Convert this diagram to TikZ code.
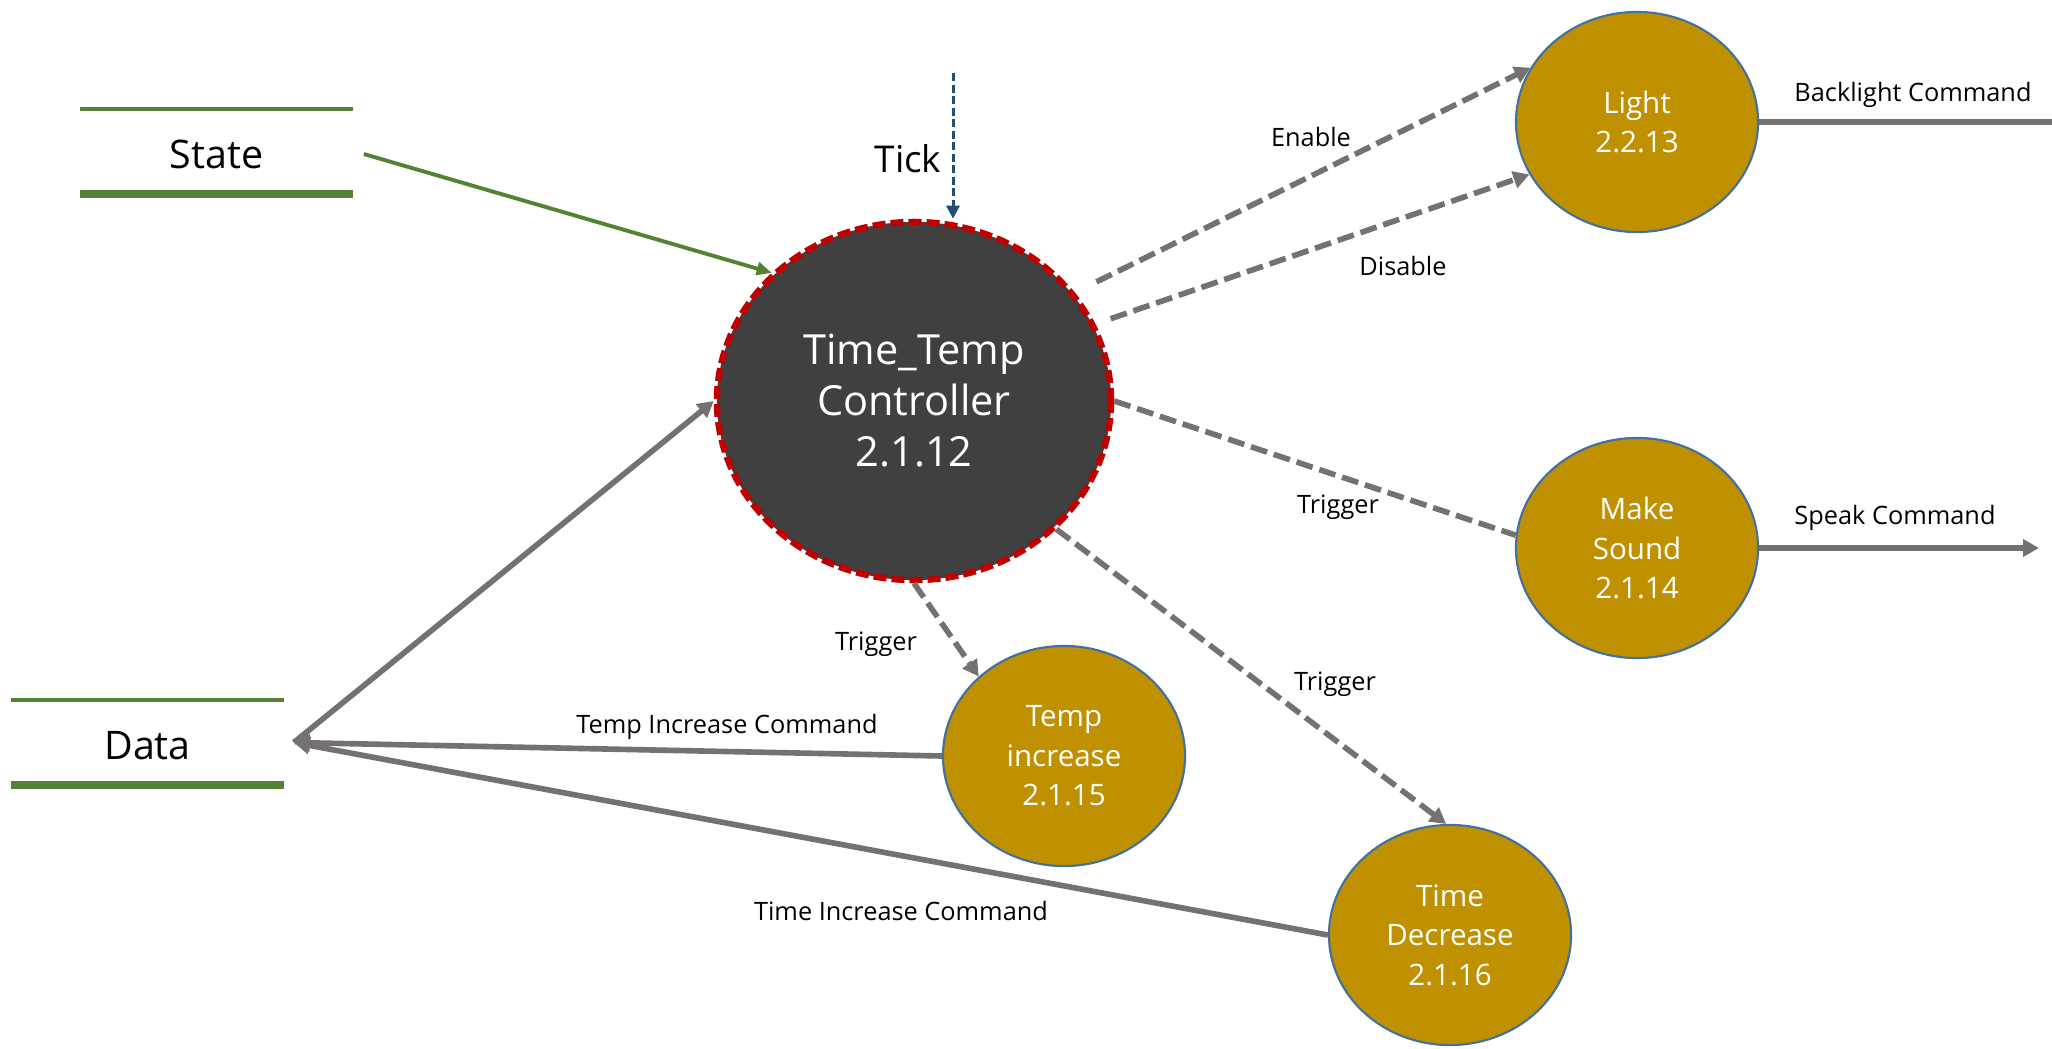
\documentclass[tikz,border=0pt]{standalone}
\usepackage{fontspec}
\setmainfont{Open Sans}
\usetikzlibrary{shapes.geometric,arrows.meta}
\definecolor{ctrlfill}{HTML}{404040}
\definecolor{ctrlred}{HTML}{C00000}
\definecolor{procgold}{HTML}{BF9000}
\definecolor{goldedge}{HTML}{41719C}
\definecolor{flowgray}{HTML}{767171}
\definecolor{storegreen}{HTML}{548235}
\definecolor{tickblue}{HTML}{1F4E79}
\begin{document}
\begin{tikzpicture}[x=0.01cm,y=-0.01cm,
  ctrlnode/.style={ellipse, fill=ctrlfill, draw=ctrlred, line width=1.8pt,
    dash pattern=on 0.13cm off 0.05cm, minimum width=3.94cm, minimum height=3.58cm,
    inner sep=0pt, align=center, text=white, font=\fontsize{11.8}{14.5}\selectfont},
  procnode/.style={ellipse, fill=procgold, draw=goldedge, line width=0.6pt,
    minimum width=2.42cm, minimum height=2.2cm, inner sep=0pt, align=center,
    text=white, font=\fontsize{8.4}{11.2}\selectfont},
  storenode/.style={minimum width=2.71cm, minimum height=0.83cm, inner sep=0pt,
    text height=0.34cm, text depth=0cm, font=\fontsize{11.2}{13}\selectfont},
  storethin/.style={draw=storegreen, line width=1.1pt},
  storethick/.style={draw=storegreen, line width=2.3pt},
  flow/.style={draw=flowgray, line width=1.6pt},
  dflow/.style={flow, dash pattern=on 0.17cm off 0.07cm},
  gtip/.style={-{Triangle[length=0.16cm,width=0.17cm]}},
  lbl/.style={font=\fontsize{7.2}{9}\selectfont, anchor=base, inner sep=0pt}]
\useasboundingbox (0,0) rectangle (2052,1048);

% processes
\node[ctrlnode] (ctrl) at (914,401) {Time\_Temp\\Controller\\2.1.12};
\node[procnode] (light) at (1637,122) {Light\\2.2.13};
\node[procnode] (sound) at (1637,548) {Make\\Sound\\2.1.14};
\node[procnode] (tinc) at (1064,756) {Temp\\increase\\2.1.15};
\node[procnode] (tdec) at (1450,935) {Time\\Decrease\\2.1.16};

% data stores
\node[storenode] (state) at (216.5,151.5) {State};
\node[storenode] (data) at (147.5,742.5) {Data};
\draw[storethin] (state.north west) -- (state.north east);
\draw[storethick] (state.south west) -- (state.south east);
\draw[storethin] (data.north west) -- (data.north east);
\draw[storethick] (data.south west) -- (data.south east);

% free ends
\coordinate (tickstart) at (953,73);
\coordinate (backlightend) at (2052,122);
\coordinate (speakend) at (2039,548);

% connectors
\draw[tickblue, line width=0.85pt, dash pattern=on 0.08cm off 0.035cm,
  -{Triangle[length=0.13cm,width=0.13cm]}] (tickstart) -- (tickstart |- ctrl.north);
\draw[storegreen, line width=1.1pt, -{Triangle[length=0.15cm,width=0.13cm]}]
  ([xshift=0.11cm,yshift=-0.025cm]state.east) -- (ctrl.138);
\draw[flow, gtip] ([xshift=0.1cm]data.east) -- (ctrl.west);
\draw[flow, gtip] (tinc.west) -- ([xshift=0.1cm]data.east);
\draw[flow, gtip] (tdec.west) -- ([xshift=0.1cm]data.east);
\draw[dflow, gtip, shorten <=0.24cm] (ctrl.34) -- (light.153);
\draw[dflow, gtip, shorten <=0.16cm] (ctrl.23) -- (light.206);
\draw[dflow] (ctrl.east) -- (sound.174);
\draw[dflow, gtip] (ctrl.318) -- (tdec.92);
\draw[dflow, gtip] (ctrl.south) -- (tinc.137);
\draw[flow] (light.east) -- (backlightend);
\draw[flow, gtip] (sound.east) -- (speakend);

% labels
\node[lbl, font=\fontsize{10.5}{12}\selectfont] (ltick) at (908,172) {Tick};
\node[lbl] (lenable) at (1311,146) {Enable};
\node[lbl] (ldisable) at (1403,275) {Disable};
\node[lbl] (ltrigms) at (1338,513) {Trigger};
\node[lbl] (ltrigtd) at (1335,690) {Trigger};
\node[lbl] (ltrigti) at (876,650) {Trigger};
\node[lbl] (ltempcmd) at (727,733) {Temp Increase Command};
\node[lbl] (ltimecmd) at (901,920) {Time Increase Command};
\node[lbl] (lback) at (1913,101) {Backlight Command};
\node[lbl] (lspeak) at (1895,524) {Speak Command};
\end{tikzpicture}
\end{document}
